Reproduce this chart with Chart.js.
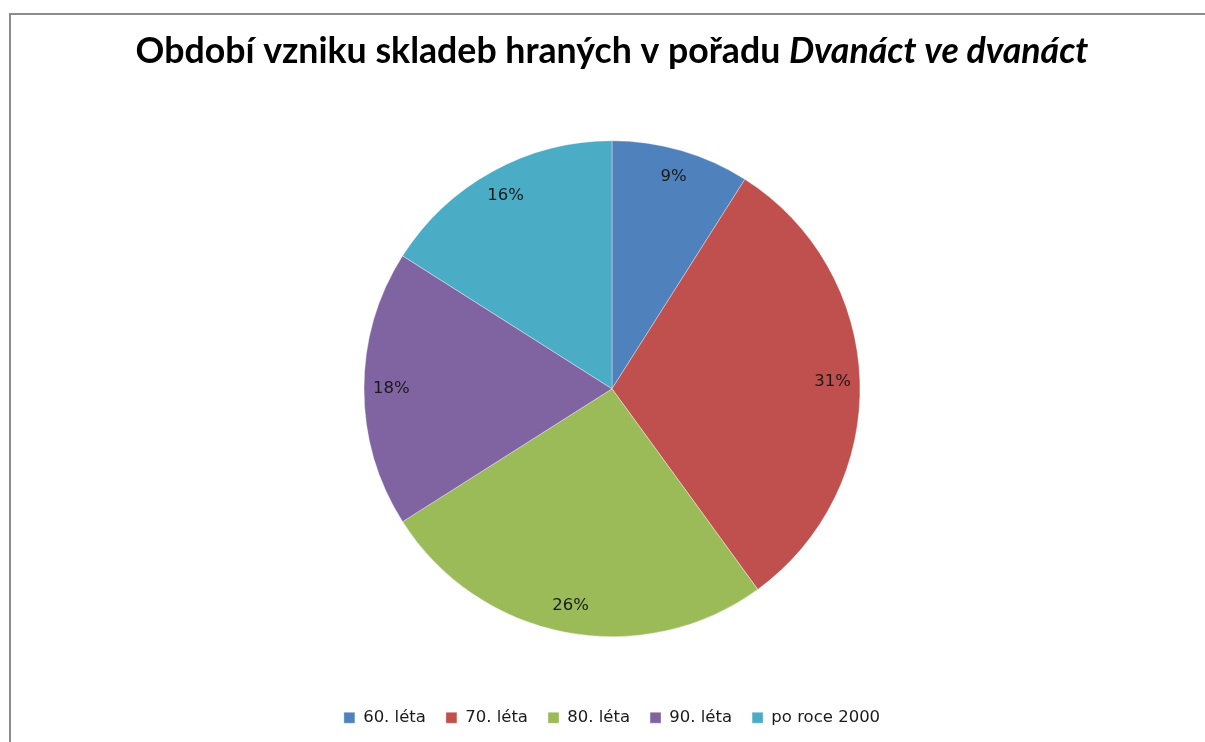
<!DOCTYPE html>
<html>
<head>
<meta charset="utf-8">
<script src="https://cdn.jsdelivr.net/npm/chart.js@4/dist/chart.umd.min.js"></script>
<style>
  html, body { margin: 0; padding: 0; background: #fff; overflow: hidden; }
  #frame {
    position: absolute; left: 9px; top: 13px;
    width: 1196px; height: 729px;
    border-left: 2px solid #8c8c8c; border-top: 2px solid #8c8c8c;
  }
  #chart { display: block; }
</style>
</head>
<body>
<div id="frame"><canvas id="chart" width="1194" height="727"></canvas></div>
<script>
const categories = ['60. léta', '70. léta', '80. léta', '90. léta', 'po roce 2000'];
const shares = [9, 31, 26, 18, 16];
const colors = ['#4f81bd', '#c0504d', '#9bbb59', '#8064a2', '#4bacc6'];

const titlePlain = 'Období vzniku skladeb hraných v pořadu ';
const titleItalic = 'Dvanáct ve dvanáct';

// titul: cast kurzivou, proto vlastni plugin
const titlePlugin = {
  id: 'mixedTitle',
  afterDraw(chart) {
    const ctx = chart.ctx;
    const family = 'Lato, "Open Sans", sans-serif';
    ctx.save();
    ctx.font = `bold 30px ${family}`;
    let w1 = ctx.measureText(titlePlain).width;
    ctx.font = `italic bold 30px ${family}`;
    let w2 = ctx.measureText(titleItalic).width;
    const size = 30 * 953 / (w1 + w2);
    ctx.font = `bold ${size}px ${family}`;
    w1 = ctx.measureText(titlePlain).width;
    ctx.font = `italic bold ${size}px ${family}`;
    w2 = ctx.measureText(titleItalic).width;
    const x0 = 601 - (w1 + w2) / 2;
    const y = 48;
    ctx.fillStyle = '#000';
    ctx.textBaseline = 'alphabetic';
    ctx.textAlign = 'left';
    ctx.font = `bold ${size}px ${family}`;
    ctx.fillText(titlePlain, x0, y);
    ctx.font = `italic bold ${size}px ${family}`;
    ctx.fillText(titleItalic, x0 + w1, y);
    ctx.restore();
  }
};

const pctLabels = {
  id: 'pctLabels',
  afterDatasetsDraw(chart) {
    const ctx = chart.ctx;
    const meta = chart.getDatasetMeta(0);
    const data = chart.data.datasets[0].data;
    const total = data.reduce((a, b) => a + b, 0);
    ctx.save();
    ctx.font = '16.5px "DejaVu Sans", sans-serif';
    ctx.fillStyle = '#1a1a1a';
    ctx.textAlign = 'center';
    ctx.textBaseline = 'middle';
    meta.data.forEach((arc, i) => {
      const p = arc.getProps(['x', 'y', 'startAngle', 'endAngle', 'outerRadius'], true);
      const mid = (p.startAngle + p.endAngle) / 2;
      const r = p.outerRadius * 0.89;
      const txt = Math.round(data[i] / total * 100) + '%';
      ctx.fillText(txt, p.x + Math.cos(mid) * r, p.y + Math.sin(mid) * r);
    });
    ctx.restore();
  }
};

new Chart(document.getElementById('chart'), {
  type: 'pie',
  data: {
    labels: categories,
    datasets: [{
      data: shares,
      backgroundColor: colors,
      borderColor: 'rgba(255,255,255,0.35)',
      borderWidth: 1,
      radius: 248
    }]
  },
  options: {
    responsive: false,
    animation: false,
    layout: { padding: { top: 73, bottom: 6, left: 8, right: 0 } },
    plugins: {
      title: { display: false },
      tooltip: { enabled: false },
      legend: {
        position: 'bottom',
        labels: {
          boxWidth: 11,
          boxHeight: 11,
          padding: 20,
          color: '#1a1a1a',
          font: { family: '"DejaVu Sans", sans-serif', size: 16.5 }
        }
      }
    }
  },
  plugins: [titlePlugin, pctLabels]
});
</script>
</body>
</html>
